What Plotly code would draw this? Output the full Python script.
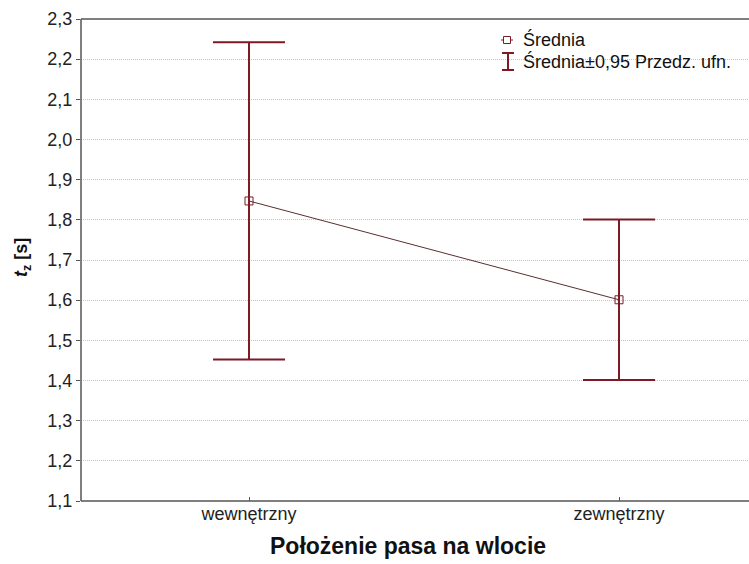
import plotly.graph_objects as go

# Mean time and 95% confidence half-width for each lane position
categories = ["wewnętrzny", "zewnętrzny"]
means = [1.847, 1.601]
ci95 = [0.395, 0.200]

y_tick_vals = [1.1, 1.2, 1.3, 1.4, 1.5, 1.6, 1.7, 1.8, 1.9, 2.0, 2.1, 2.2, 2.3]

FONT = "Liberation Sans, Arial, sans-serif"
MAROON = "#7d1a26"
LINE_DARK = "#5b2e30"
FRAME = "#555555"

FIG_W, FIG_H = 749, 564
L, R, T, B = 81, 749, 19, 501


def px(x):
    return (x - L) / (R - L)


def py(y):
    return (B - y) / (B - T)


fig = go.Figure()

# thin line joining the means
fig.add_trace(go.Scatter(
    x=categories, y=means, mode="lines",
    line=dict(color=LINE_DARK, width=1),
    showlegend=False, hoverinfo="skip",
))

# means with confidence intervals
fig.add_trace(go.Scatter(
    x=categories, y=means, mode="markers",
    marker=dict(symbol="square-open", size=8, color=MAROON,
                line=dict(color=MAROON, width=1)),
    error_y=dict(type="data", array=ci95, visible=True,
                 color=MAROON, thickness=2, width=36),
    showlegend=False,
))

# open frame: left, bottom and top edges
fig.add_shape(type="line", xref="paper", yref="paper", x0=0, y0=0, x1=0, y1=1,
              line=dict(color=FRAME, width=1.5), layer="above")
fig.add_shape(type="line", xref="paper", yref="paper", x0=0, y0=0, x1=1, y1=0,
              line=dict(color=FRAME, width=1.5), layer="above")
fig.add_shape(type="line", xref="paper", yref="paper", x0=0, y0=1, x1=1, y1=1,
              line=dict(color=FRAME, width=1.5), layer="above")

# legend glyph: open square with a line through it
sx, sy = 507, 40
fig.add_shape(type="line", xref="paper", yref="paper",
              x0=px(sx - 6), x1=px(sx + 6), y0=py(sy), y1=py(sy),
              line=dict(color=MAROON, width=1))
fig.add_shape(type="rect", xref="paper", yref="paper",
              x0=px(sx - 3.5), x1=px(sx + 3.5), y0=py(sy - 3.5), y1=py(sy + 3.5),
              line=dict(color=MAROON, width=1), fillcolor="white")
# legend glyph: I-beam for the confidence interval
ix, iy0, iy1 = 508, 53, 70
fig.add_shape(type="line", xref="paper", yref="paper",
              x0=px(ix), x1=px(ix), y0=py(iy0), y1=py(iy1),
              line=dict(color=MAROON, width=2))
for yy in (iy0, iy1):
    fig.add_shape(type="line", xref="paper", yref="paper",
                  x0=px(ix - 6), x1=px(ix + 6), y0=py(yy), y1=py(yy),
                  line=dict(color=MAROON, width=2))

fig.add_annotation(text="Średnia", xref="paper", yref="paper", x=px(521), y=py(40),
                   xanchor="left", yanchor="middle", showarrow=False,
                   font=dict(family=FONT, size=18, color="#111111"))
fig.add_annotation(text="Średnia±0,95 Przedz. ufn.", xref="paper", yref="paper",
                   x=px(521), y=py(61), xanchor="left", yanchor="middle", showarrow=False,
                   font=dict(family=FONT, size=18, color="#111111"))

# axis titles
fig.add_annotation(text="<b>Położenie pasa na wlocie</b>", xref="paper", yref="paper",
                   x=px(408), y=py(546), xanchor="center", yanchor="middle",
                   showarrow=False, font=dict(family=FONT, size=23, color="#111111"))
fig.add_annotation(text="<b><i>t</i><sub>z</sub> [s]</b>", xref="paper", yref="paper",
                   x=px(22), y=py(258), xanchor="center", yanchor="middle",
                   textangle=-90, showarrow=False,
                   font=dict(family=FONT, size=18, color="#111111"))

# category positions 0 and 1 sit at 249 px and 619 px
x_lo = -(249 - L) / 370
x_hi = 1 + (R - 619) / 370

fig.update_layout(
    width=FIG_W, height=FIG_H,
    margin=dict(l=L, r=FIG_W - R, t=T, b=FIG_H - B),
    paper_bgcolor="white", plot_bgcolor="white",
    separators=", ",
    font=dict(family=FONT, size=18, color="#222222"),
    showlegend=False,
)

fig.update_xaxes(
    type="category", range=[x_lo, x_hi],
    showline=False,
    ticks="inside", ticklen=4, tickcolor=FRAME,
    showgrid=False, zeroline=False,
    tickfont=dict(family=FONT, size=18, color="#222222"),
)

fig.update_yaxes(
    range=[1.1, 2.3], tickvals=y_tick_vals, tickformat=".1f",
    showline=False,
    ticks="outside", ticklen=4, tickcolor=FRAME,
    showgrid=True, gridcolor="#c4c4c4", griddash="1px,1px", gridwidth=1,
    zeroline=False,
    tickfont=dict(family=FONT, size=18, color="#222222"),
)

fig.write_html("out.html")
